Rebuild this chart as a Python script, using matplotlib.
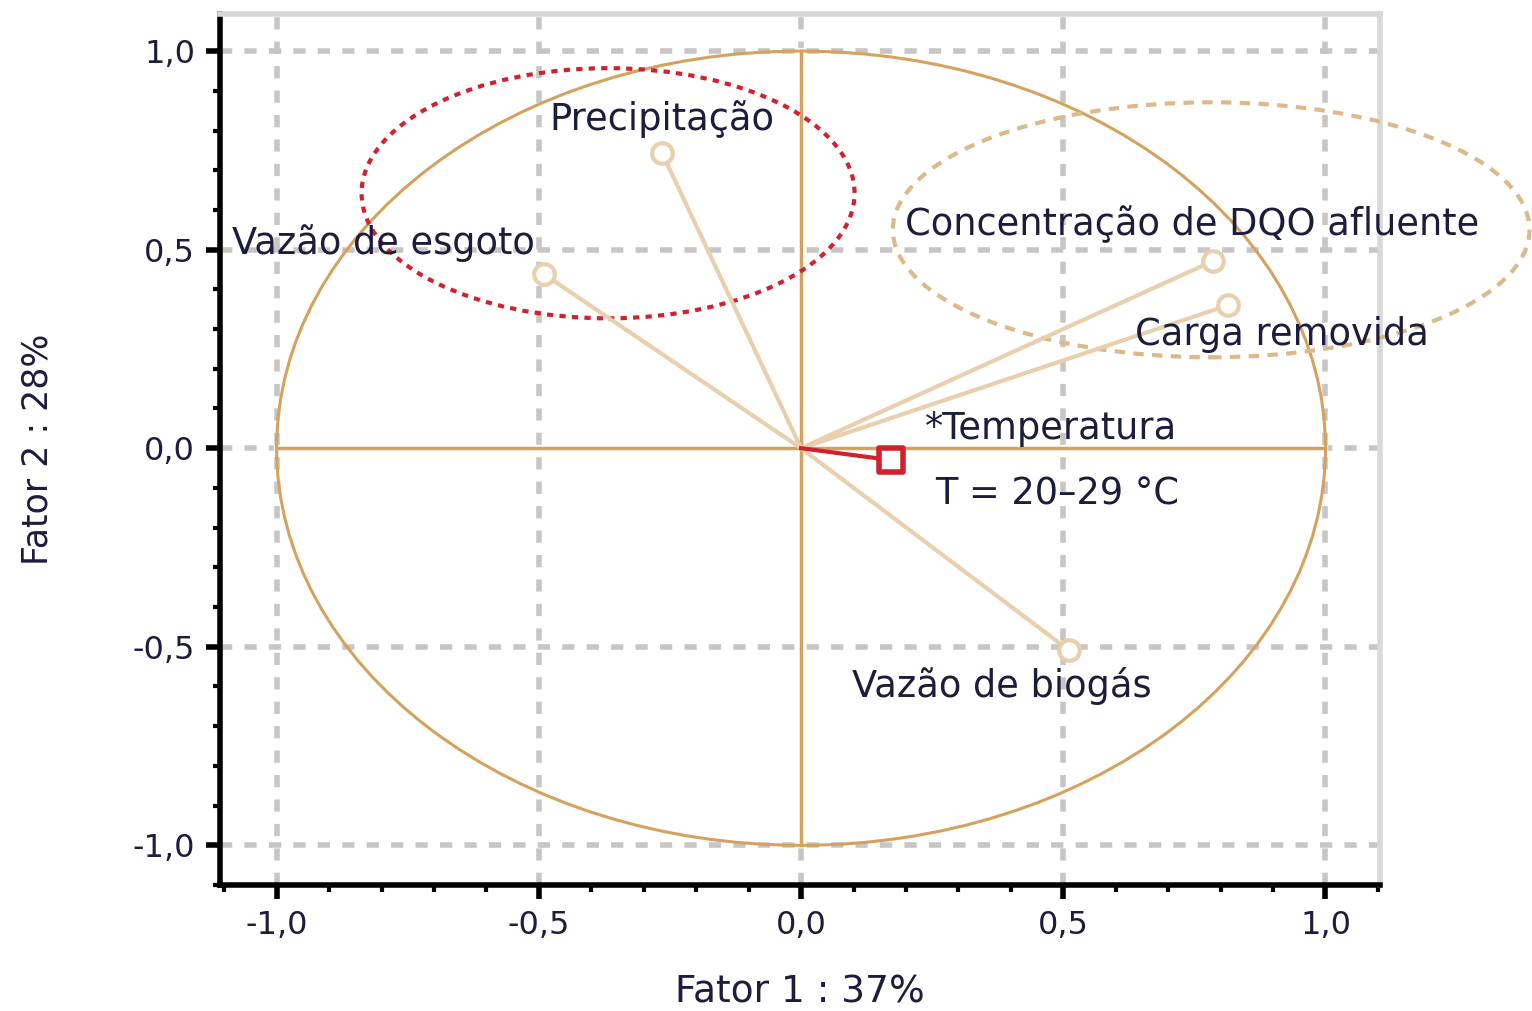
import numpy as np
import matplotlib.pyplot as plt
from matplotlib.patches import Ellipse, Circle
from matplotlib.ticker import MultipleLocator, FuncFormatter

# variáveis e coordenadas (Fator 1, Fator 2)
variaveis = ["Precipitação", "Vazão de esgoto", "Concentração de DQO afluente",
             "Carga removida", "Vazão de biogás"]
fator1 = [-0.265, -0.49, 0.785, 0.814, 0.511]
fator2 = [0.743, 0.438, 0.471, 0.360, -0.509]

temp_f1 = 0.172
temp_f2 = -0.030

# posições dos rótulos
rot_x = [-0.48, -1.085, 0.198, 0.637, 0.097]
rot_y = [0.83, 0.516, 0.564, 0.287, -0.60]

TAN = "#e9cfad"
OURO = "#d4a25e"
VERMELHO = "#d2212e"
TEXTO = "#1c1c3c"
FS = 26.5

fig = plt.figure(figsize=(15.32, 10.11), dpi=100)
ax = fig.add_axes([0.1436, 0.1246, 0.7572, 0.8614])
ax.set_xlim(-1.108, 1.104)
ax.set_ylim(-1.10, 1.093)

# grade
for v in [-1.0, -0.5, 0.0, 0.5, 1.0]:
    ax.axvline(v, color="#c9c5c5", lw=4, ls=(0, (2.2, 2.2)), zorder=0)
    ax.axhline(v, color="#c9c5c5", lw=4, ls=(0, (2.2, 2.2)), zorder=0)

# círculo de correlação (linha branca por baixo esconde a grade em 0)
ax.add_patch(Circle((0, 0), 1.0, fill=False, ec=OURO, lw=2.2, zorder=2))
ax.plot([-1, 1], [0, 0], color="white", lw=4.5, zorder=1)
ax.plot([0, 0], [-1, 1], color="white", lw=4.5, zorder=1)
ax.plot([-1, 1], [0, 0], color=OURO, lw=2.5, zorder=2)
ax.plot([0, 0], [-1, 1], color=OURO, lw=2.5, zorder=2)

# elipses
ax.add_patch(Ellipse((-0.368, 0.642), 0.94, 0.63, fill=False, ec=VERMELHO,
                     lw=3, ls=(0, (1.5, 1.5)), zorder=3))
ax.add_patch(Ellipse((0.782, 0.55), 1.214, 0.642, fill=False, ec="#ddb98a",
                     lw=3, ls=(0, (2.5, 2)), zorder=3, clip_on=False))

# vetores
for x, y in zip(fator1, fator2):
    ax.plot([0, x], [0, y], color=TAN, lw=3, zorder=4)
ax.scatter(fator1, fator2, s=220, facecolor="white", edgecolor=TAN,
           linewidth=3, zorder=5)

ax.plot([0, temp_f1], [0, temp_f2], color=VERMELHO, lw=3, zorder=4)
ax.scatter([temp_f1], [temp_f2], marker="s", s=300, facecolor="white",
           edgecolor=VERMELHO, linewidth=4, zorder=5)

for nome, x, y in zip(variaveis, rot_x, rot_y):
    ax.text(x, y, nome, fontsize=FS, color=TEXTO, va="center", ha="left",
            zorder=6, clip_on=False)
ax.text(0.236, 0.05, "*Temperatura", fontsize=FS, color=TEXTO, va="center", zorder=6)
ax.text(0.255, -0.116, "T = 20–29 °C", fontsize=FS, color=TEXTO, va="center", zorder=6)

# eixos
for lado in ["left", "bottom"]:
    ax.spines[lado].set_linewidth(4)
    ax.spines[lado].set_color("black")
for lado in ["top", "right"]:
    ax.spines[lado].set_linewidth(4)
    ax.spines[lado].set_color("#d9d9d9")

ax.xaxis.set_major_locator(MultipleLocator(0.5))
ax.yaxis.set_major_locator(MultipleLocator(0.5))
ax.xaxis.set_minor_locator(MultipleLocator(0.1))
ax.yaxis.set_minor_locator(MultipleLocator(0.1))
fmt = FuncFormatter(lambda v, p: f"{v:.1f}".replace(".", ","))
ax.xaxis.set_major_formatter(fmt)
ax.yaxis.set_major_formatter(fmt)
ax.tick_params(which="major", length=10, width=4, labelsize=23,
               labelcolor=TEXTO, pad=8)
ax.tick_params(which="minor", length=5, width=3)

ax.set_xlabel("Fator 1 : 37%", fontsize=27, color=TEXTO, labelpad=24)
ax.set_ylabel("Fator 2 : 28%", fontsize=25, color=TEXTO, labelpad=56)

fig.savefig("out.png", dpi=100)
